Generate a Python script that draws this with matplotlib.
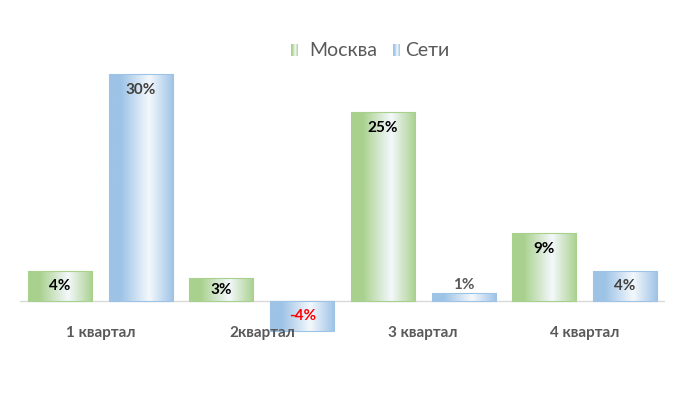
import numpy as np
import matplotlib.pyplot as plt
from matplotlib.colors import LinearSegmentedColormap, to_rgb
from matplotlib.patches import Rectangle

# данные
kvartaly = ["1 квартал", "2квартал", "3 квартал", "4 квартал"]
moskva = [4, 3, 25, 9]
seti = [30, -4, 1, 4]
serii = ["Москва", "Сети"]

plt.rcParams['font.family'] = ['Lato', 'DejaVu Sans']

zeleny = "#a9d18e"
siniy = "#9dc3e6"


def gradient(c):
    return LinearSegmentedColormap.from_list(
        "g", [(0.0, to_rgb(c)), (0.18, to_rgb(c)), (0.62, to_rgb("#f4f8fc")), (1.0, to_rgb(c))])


fig = plt.figure(figsize=(7, 4), dpi=100)
ax = fig.add_axes([20 / 700, 60 / 400, 645 / 700, 270 / 400])
ax.set_xlim(-0.5, 3.5)
ax.set_ylim(-(340 - 301) / 7.57, (301 - 70) / 7.57)
ax.axis("off")

x = np.arange(len(kvartaly))
w = 0.397
sdvig = 0.251
grad = np.linspace(0, 1, 256).reshape(1, -1)

for vals, pos, c in [(moskva, x - sdvig, zeleny), (seti, x + sdvig, siniy)]:
    bars = ax.bar(pos, vals, w, color="none", edgecolor=c, linewidth=0.8, zorder=3)
    for b in bars:
        x0, y0 = b.get_x(), b.get_y()
        bw, bh = b.get_width(), b.get_height()
        im = ax.imshow(grad, cmap=gradient(c), aspect="auto",
                       extent=[x0, x0 + bw, min(y0, y0 + bh), max(y0, y0 + bh)], zorder=2)
        im.set_clip_path(Rectangle((x0, y0), bw, bh, transform=ax.transData))

ax.axhline(0, color="#d9d9d9", linewidth=1, zorder=1)

# подписи значений (внутри у вершины, маленькие - по центру)
otstup = 16 / 7.57


def pos_podpisi(v):
    if v >= 0:
        return max(v - otstup, v / 2)
    return min(v + otstup, v / 2)


for i in range(len(kvartaly)):
    v = moskva[i]
    ax.text(x[i] - sdvig, pos_podpisi(v), f"{v}%", ha="center", va="center",
            fontsize=11, fontweight="bold", color="#000000", zorder=5)
    v = seti[i]
    if v < 0:
        ax.text(x[i] + sdvig, pos_podpisi(v), f"{v}%", ha="center", va="center",
                fontsize=11, fontweight="bold", color="#ff0000", zorder=5)
    elif v < 2:
        ax.annotate(f"{v}%", (x[i] + sdvig, v), xytext=(0, 6), textcoords="offset points",
                    ha="center", va="center", fontsize=11, fontweight="bold", color="#595959", zorder=5)
    else:
        ax.text(x[i] + sdvig, pos_podpisi(v), f"{v}%", ha="center", va="center",
                fontsize=11, fontweight="bold", color="#404040", zorder=5)

# подписи кварталов
for i, k in enumerate(kvartaly):
    ax.annotate(k, (x[i], 0), xytext=(0, -23), textcoords="offset points",
                ha="center", va="center", fontsize=11, fontweight="bold", color="#595959", zorder=6)

# легенда
for xl, xt, name, c in [(291, 309, serii[0], zeleny), (393, 405, serii[1], siniy)]:
    lax = fig.add_axes([xl / 700, (400 - 56) / 400, 7 / 700, 12 / 400])
    lax.imshow(grad, cmap=gradient(c), aspect="auto", extent=[0, 1, 0, 1])
    lax.set_xlim(0, 1)
    lax.set_ylim(0, 1)
    lax.axis("off")
    fig.text(xt / 700, (400 - 50) / 400, name, fontsize=14, color="#595959",
             ha="left", va="center")

fig.savefig("out.png", dpi=100, facecolor="white")
